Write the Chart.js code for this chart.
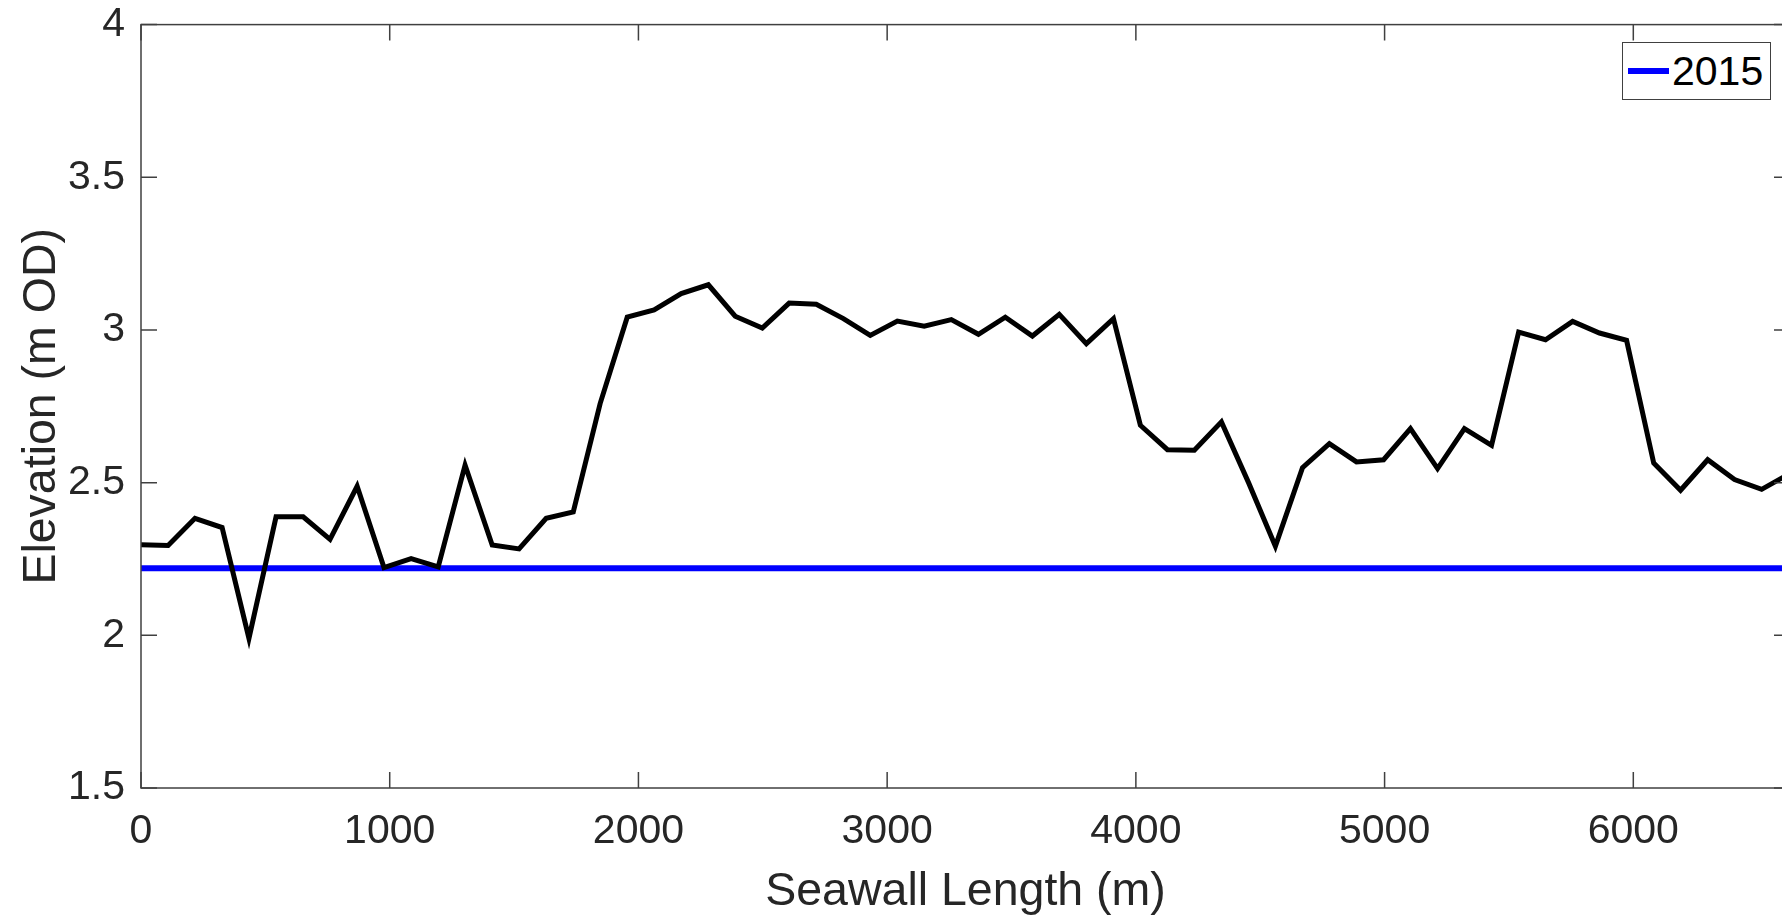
<!DOCTYPE html>
<html>
<head>
<meta charset="utf-8">
<script src="https://cdn.jsdelivr.net/npm/chart.js@4.4.1/dist/chart.umd.min.js"></script>
<style>
  html, body { margin: 0; padding: 0; background: #fff; overflow: hidden; }
  #wrap { position: relative; width: 1800px; height: 916px; }
  #legend {
    position: absolute; left: 1622px; top: 42px; width: 149px; height: 58px;
    border: 1px solid #404040; background: #fff; box-sizing: border-box;
    display: flex; align-items: center; font-family: 'Liberation Sans', Arial, sans-serif;
    font-size: 41px; color: #000;
  }
  .swatch { width: 41px; height: 6px; margin-left: 5px; margin-right: 3px; }
</style>
</head>
<body>
<div id="wrap">
  <canvas id="seawall-chart" width="1800" height="916"></canvas>
  <div id="legend"></div>
</div>
<script>
// distance along the seawall (m)
const chainage = [
  0, 109, 217, 326, 434, 543, 652, 760, 869, 977,
  1086, 1195, 1303, 1412, 1520, 1629, 1738, 1846, 1955, 2063,
  2172, 2281, 2389, 2498, 2606, 2715, 2824, 2932, 3041, 3149,
  3258, 3367, 3475, 3584, 3692, 3801, 3910, 4018, 4127, 4235,
  4344, 4453, 4561, 4670, 4778, 4887, 4996, 5104, 5213, 5321,
  5430, 5539, 5647, 5756, 5864, 5973, 6082, 6190, 6299, 6407,
  6516, 6625
];

// crest elevation (m OD)
const crestElevation = [
  2.297, 2.294, 2.383, 2.353, 1.990, 2.388, 2.388, 2.314, 2.488, 2.222,
  2.251, 2.224, 2.557, 2.296, 2.283, 2.383, 2.404, 2.759, 3.042, 3.066,
  3.119, 3.148, 3.045, 3.006, 3.088, 3.084, 3.037, 2.982, 3.029, 3.012,
  3.034, 2.986, 3.042, 2.980, 3.051, 2.955, 3.037, 2.688, 2.608, 2.606,
  2.699, 2.500, 2.292, 2.549, 2.628, 2.568, 2.575, 2.677, 2.546, 2.677,
  2.622, 2.993, 2.968, 3.028, 2.990, 2.966, 2.564, 2.475, 2.575, 2.510,
  2.478, 2.528
];

// 2015 water level
const level2015X = [0, 6630];
const level2015Y = [2.22, 2.22];

// axis limits and tick labels
const xMin = 0, xMax = 6630;
const xTickValues = [0, 1000, 2000, 3000, 4000, 5000, 6000];
const yMin = 1.5, yMax = 4;
const yTickValues = [1.5, 2, 2.5, 3, 3.5, 4];

const TEXT = '#262626';
const FONT = "'Liberation Sans', Arial, sans-serif";
const TICK_LEN = 16;

// MATLAB style box with inward ticks on all four sides
const boxPlugin = {
  id: 'boxPlugin',
  afterDatasetsDraw(chart) {
    const { ctx, chartArea: a, scales } = chart;
    ctx.save();
    ctx.strokeStyle = '#404040';
    ctx.lineWidth = 1.5;
    ctx.strokeRect(a.left, a.top, a.right - a.left, a.bottom - a.top);
    ctx.beginPath();
    scales.x.ticks.forEach((t) => {
      const px = scales.x.getPixelForValue(t.value);
      ctx.moveTo(px, a.bottom); ctx.lineTo(px, a.bottom - TICK_LEN);
      ctx.moveTo(px, a.top); ctx.lineTo(px, a.top + TICK_LEN);
    });
    scales.y.ticks.forEach((t) => {
      const py = scales.y.getPixelForValue(t.value);
      ctx.moveTo(a.left, py); ctx.lineTo(a.left + TICK_LEN, py);
      ctx.moveTo(a.right, py); ctx.lineTo(a.right - TICK_LEN, py);
    });
    ctx.stroke();
    ctx.restore();
  }
};

const chart = new Chart(document.getElementById('seawall-chart'), {
  type: 'line',
  data: {
    datasets: [
      {
        label: 'Crest elevation',
        data: chainage.map((x, i) => ({ x, y: crestElevation[i] })),
        borderColor: '#000000',
        borderWidth: 5,
        pointRadius: 0,
        tension: 0,
        showInLegend: false
      },
      {
        label: '2015',
        data: level2015X.map((x, i) => ({ x, y: level2015Y[i] })),
        borderColor: '#0000ff',
        borderWidth: 6,
        pointRadius: 0,
        showInLegend: true
      }
    ]
  },
  options: {
    responsive: false,
    animation: false,
    events: [],
    layout: { padding: { top: 0, right: 10, left: 0, bottom: 0 } },
    plugins: { legend: { display: false }, tooltip: { enabled: false } },
    scales: {
      x: {
        type: 'linear',
        min: xMin, max: xMax,
        afterBuildTicks: (s) => { s.ticks = xTickValues.map((value) => ({ value })); },
        afterFit: (s) => { s.height = 128; },
        grid: { display: false, drawTicks: false },
        border: { display: false },
        ticks: {
          autoSkip: false, maxRotation: 0,
          padding: 19, color: TEXT, font: { family: FONT, size: 41 },
          callback: (v) => String(v)
        },
        title: {
          display: true, text: 'Seawall Length (m)', color: TEXT,
          font: { family: FONT, size: 46.5, lineHeight: 1 }, padding: { top: 0, bottom: 1 }
        }
      },
      y: {
        min: yMin, max: yMax,
        afterBuildTicks: (s) => { s.ticks = yTickValues.map((value) => ({ value })); },
        afterFit: (s) => { s.width = 141; },
        // tick marks are drawn by boxPlugin; tickLength only sets the label gap
        grid: { display: false, drawTicks: true, tickLength: 16 },
        border: { display: false },
        ticks: {
          padding: 0, color: TEXT, font: { family: FONT, size: 41 },
          callback: (v) => String(v)
        },
        title: {
          display: true, text: 'Elevation (m OD)', color: TEXT,
          font: { family: FONT, size: 46.5 }, padding: { top: 14, bottom: 0 }
        }
      }
    }
  },
  plugins: [boxPlugin]
});

// legend box inside the axes, top right
const legendEl = document.getElementById('legend');
legendEl.innerHTML = chart.data.datasets
  .filter((d) => d.showInLegend)
  .map((d) => `<span class="swatch" style="background:${d.borderColor}"></span><span>${d.label}</span>`)
  .join('');
</script>
</body>
</html>
